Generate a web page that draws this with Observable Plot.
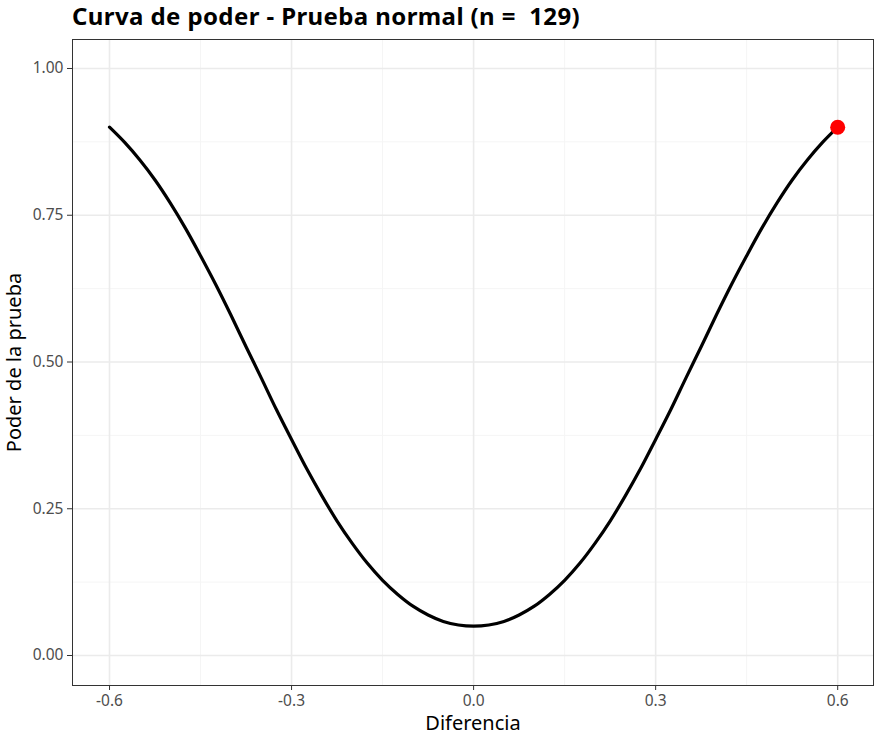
<!DOCTYPE html>
<html>
<head>
<meta charset="utf-8">
<script src="https://cdn.jsdelivr.net/npm/d3@7"></script>
<script src="https://cdn.jsdelivr.net/npm/@observablehq/plot@0.6"></script>
<style>
  body { margin: 0; background: #fff; font-family: "Noto Sans", "Open Sans", sans-serif; }
  #title { height: 32px; line-height: 32px; padding-left: 72px; font-size: 24px; letter-spacing: 0.4px; font-weight: bold; color: #000; white-space: pre; }
</style>
</head>
<body>
<div id="title">Curva de poder - Prueba normal (n =  129)</div>
<div id="chart"></div>
<script>
const diferencia = [-0.6,-0.575,-0.55,-0.525,-0.5,-0.475,-0.45,-0.425,-0.4,-0.375,-0.35,-0.325,-0.3,-0.275,-0.25,-0.225,-0.2,-0.175,-0.15,-0.125,-0.1,-0.075,-0.05,-0.025,0,0.025,0.05,0.075,0.1,0.125,0.15,0.175,0.2,0.225,0.25,0.275,0.3,0.325,0.35,0.375,0.4,0.425,0.45,0.475,0.5,0.525,0.55,0.575,0.6];
const poder = [0.900,0.874,0.844,0.810,0.771,0.728,0.681,0.632,0.580,0.526,0.473,0.419,0.368,0.318,0.272,0.229,0.191,0.157,0.128,0.104,0.084,0.069,0.058,0.052,0.050,0.052,0.058,0.069,0.084,0.104,0.128,0.157,0.191,0.229,0.272,0.318,0.368,0.419,0.473,0.526,0.580,0.632,0.681,0.728,0.771,0.810,0.844,0.874,0.900];
const puntoX = [0.6];
const puntoY = [0.9];
const xTicks = [-0.6, -0.3, 0, 0.3, 0.6];
const xTickLabels = ["-0.6", "-0.3", "0.0", "0.3", "0.6"];
const xMinor = [-0.45, -0.15, 0.15, 0.45];
const yTicks = [0, 0.25, 0.5, 0.75, 1];
const yTickLabels = ["0.00", "0.25", "0.50", "0.75", "1.00"];
const yMinor = [0.125, 0.375, 0.625, 0.875];

const curve = diferencia.map((d, i) => ({x: d, y: poder[i]}));
const punto = puntoX.map((d, i) => ({x: d, y: puntoY[i]}));

const plot = Plot.plot({
  width: 892,
  height: 709,
  marginTop: 7,
  marginBottom: 56,
  marginLeft: 72,
  marginRight: 19,
  style: { fontFamily: "'Noto Sans', 'Open Sans', sans-serif", background: "#fff" },
  x: { domain: [-0.661, 0.659], label: null },
  y: { domain: [-0.0511, 1.0494], label: null },
  marks: [
    Plot.ruleX(xMinor, { stroke: "#f5f5f5", strokeWidth: 1 }),
    Plot.ruleY(yMinor, { stroke: "#f5f5f5", strokeWidth: 1 }),
    Plot.ruleX(xTicks, { stroke: "#ebebeb", strokeWidth: 1.6 }),
    Plot.ruleY(yTicks, { stroke: "#ebebeb", strokeWidth: 1.6 }),
    Plot.line(curve, { x: "x", y: "y", stroke: "#000", strokeWidth: 3.2, curve: "catmull-rom" }),
    Plot.dot(punto, { x: "x", y: "y", fill: "#ff0000", r: 7.5 }),
    Plot.frame({ stroke: "#333333", strokeWidth: 1 }),
    Plot.axisX({ ticks: xTicks, tickFormat: (d, i) => xTickLabels[i], tickSize: 5, tickPadding: 4, stroke: "#333", fontSize: 15.5, color: "#4d4d4d", label: "Diferencia", labelAnchor: "center", labelArrow: "none", labelOffset: 44 }),
    Plot.axisY({ ticks: yTicks, tickFormat: (d, i) => yTickLabels[i], tickSize: 5, tickPadding: 4, stroke: "#333", fontSize: 15.5, color: "#4d4d4d", label: "Poder de la prueba", labelAnchor: "center", labelArrow: "none", labelOffset: 66 })
  ]
});
document.getElementById("chart").appendChild(plot);
plot.querySelectorAll("g[aria-label='x-axis label'] text, g[aria-label='y-axis label'] text").forEach(t => { t.style.fontSize = "20px"; t.setAttribute("fill", "#000"); });
</script>
</body>
</html>
